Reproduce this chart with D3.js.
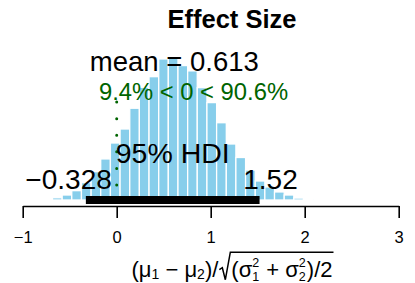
<!DOCTYPE html>
<html>
<head>
<meta charset="utf-8">
<script src="https://cdn.jsdelivr.net/npm/d3@7"></script>
<style>
  body { margin: 0; background: #fff; }
  svg { font-family: "Liberation Sans", Arial, sans-serif; }
</style>
</head>
<body>
<svg id="chart" width="415" height="283"></svg>
<script>
// histogram bins of the posterior effect size (edges) and their densities
const binEdges = [-0.683, -0.580, -0.478, -0.375, -0.272, -0.170, -0.067, 0.036, 0.139,
  0.241, 0.344, 0.447, 0.549, 0.652, 0.755, 0.857, 0.960, 1.063, 1.166, 1.268,
  1.371, 1.474, 1.576, 1.679, 1.782, 1.884, 1.987, 2.090];
const density = [0.014, 0.031, 0.058, 0.108, 0.176, 0.255, 0.354, 0.441, 0.570,
  0.700, 0.766, 0.876, 0.887, 0.835, 0.802, 0.698, 0.605, 0.480, 0.348, 0.264,
  0.186, 0.118, 0.081, 0.050, 0.031, 0.012, 0.006];
const xTicks = [-1, 0, 1, 2, 3];

const meanVal = 0.613;
const hdi = [-0.328, 1.52];
const compVal = 0;
const pcLtComp = 9.4;
const pcGtComp = 90.6;

const svg = d3.select("#chart");

const x = d3.scaleLinear().domain([-1, 3]).range([22.7, 398.7]);
const y = d3.scaleLinear().domain([0, 1]).range([200, 39]);
const maxDens = d3.max(density);
const centerX = 232;

// bars
svg.append("g")
  .selectAll("rect")
  .data(density)
  .enter()
  .append("rect")
  .attr("x", (d, i) => x(binEdges[i]))
  .attr("width", (d, i) => x(binEdges[i + 1]) - x(binEdges[i]))
  .attr("y", (d) => y(d))
  .attr("height", (d) => y(0) - y(d))
  .attr("fill", "#87CEEB")
  .attr("stroke", "#fff")
  .attr("stroke-width", 1.3);

// comparison value line
svg.append("line")
  .attr("x1", x(compVal)).attr("x2", x(compVal))
  .attr("y1", y(0.96 * 0.7 * maxDens) - 2).attr("y2", y(0))
  .attr("stroke", "#006400")
  .attr("stroke-width", 3)
  .attr("stroke-linecap", "round")
  .attr("stroke-dasharray", "0,16.6");

// HDI bar
svg.append("line")
  .attr("x1", x(hdi[0])).attr("x2", x(hdi[1]))
  .attr("y1", y(0)).attr("y2", y(0))
  .attr("stroke", "#000")
  .attr("stroke-width", 8);

// x axis
const xAxis = d3.axisBottom(x)
  .tickValues(xTicks)
  .tickFormat(d3.format("d"))
  .tickSize(12)
  .tickSizeOuter(0)
  .tickPadding(13.6);

const ax = svg.append("g")
  .attr("transform", "translate(0,206)")
  .call(xAxis);
ax.select(".domain").attr("stroke-width", 1.6);
ax.selectAll(".tick line").attr("stroke-width", 1.6);
ax.selectAll(".tick text")
  .attr("font-size", 16.5)
  .attr("font-family", "Liberation Sans, Arial, sans-serif")
  .attr("fill", "#000");

// texts
svg.append("text")
  .attr("x", centerX).attr("y", 28.3)
  .attr("text-anchor", "middle")
  .attr("font-weight", "bold")
  .attr("font-size", 25.5)
  .text("Effect Size");

svg.append("text")
  .attr("x", x(meanVal)).attr("y", y(0.9 * maxDens))
  .attr("text-anchor", "middle")
  .attr("font-size", 27.5)
  .text("mean = " + meanVal);

const cmp = svg.append("text")
  .attr("y", y(0.7 * maxDens))
  .attr("font-size", 23.8)
  .attr("fill", "#006400")
  .text(pcLtComp + "% < " + compVal + " < " + pcGtComp + "%");
const cw = cmp.node().getComputedTextLength();
cmp.attr("x", x(compVal) - (pcLtComp / 100) * cw);

svg.append("text")
  .attr("x", x((hdi[0] + hdi[1]) / 2)).attr("y", y(0) - 36.7)
  .attr("text-anchor", "middle")
  .attr("font-size", 28.5)
  .text("95% HDI");

const lo = svg.append("text")
  .attr("y", y(0) - 11)
  .attr("font-size", 28)
  .text("\u2212" + Math.abs(hdi[0]));
lo.attr("x", x(hdi[0]) - 0.7 * lo.node().getComputedTextLength());

const hi = svg.append("text")
  .attr("y", y(0) - 11)
  .attr("font-size", 28)
  .text(hdi[1]);
hi.attr("x", x(hdi[1]) - 0.3 * hi.node().getComputedTextLength());

// x label: (mu1 - mu2)/sqrt((sigma1^2 + sigma2^2)/2), one text element with tspans
const lab = svg.append("g");
const base = 276.7;
const fs = 22, fsSmall = 12.5;
const labText = lab.append("text");
let cx = 0;
function piece(str, size, dy) {
  const t = labText.append("tspan")
    .attr("x", cx).attr("y", base + (dy || 0))
    .attr("font-size", size)
    .text(str);
  return t.node().getComputedTextLength();
}
function add(str, size, dy) { cx += piece(str, size || fs, dy); }
function supSub(sup, sub) {
  const a = piece(sup, fsSmall, -10.2);
  const b = piece(sub, fsSmall, 3.9);
  cx += Math.max(a, b) + 1;
}
add("(\u03bc");
add("1", 14, 2);
add("\u00a0\u2212\u00a0");
add("\u03bc");
add("2", 14, 2);
add(")/");
const radStart = cx;
cx += 13;
const ovStart = cx - 1;
add("(\u03c3");
supSub("2", "1");
add("\u00a0+\u00a0");
add("\u03c3");
supSub("2", "2");
add(")/2");
lab.append("path")
  .attr("d", `M${radStart + 1},${base - 7} L${radStart + 4},${base - 9} L${radStart + 7},${base + 3} L${ovStart},${base - 24.5} L${cx + 1},${base - 24.5}`)
  .attr("fill", "none")
  .attr("stroke", "#000")
  .attr("stroke-width", 1.5);
lab.attr("transform", `translate(${centerX - cx / 2},0)`);
</script>
</body>
</html>
